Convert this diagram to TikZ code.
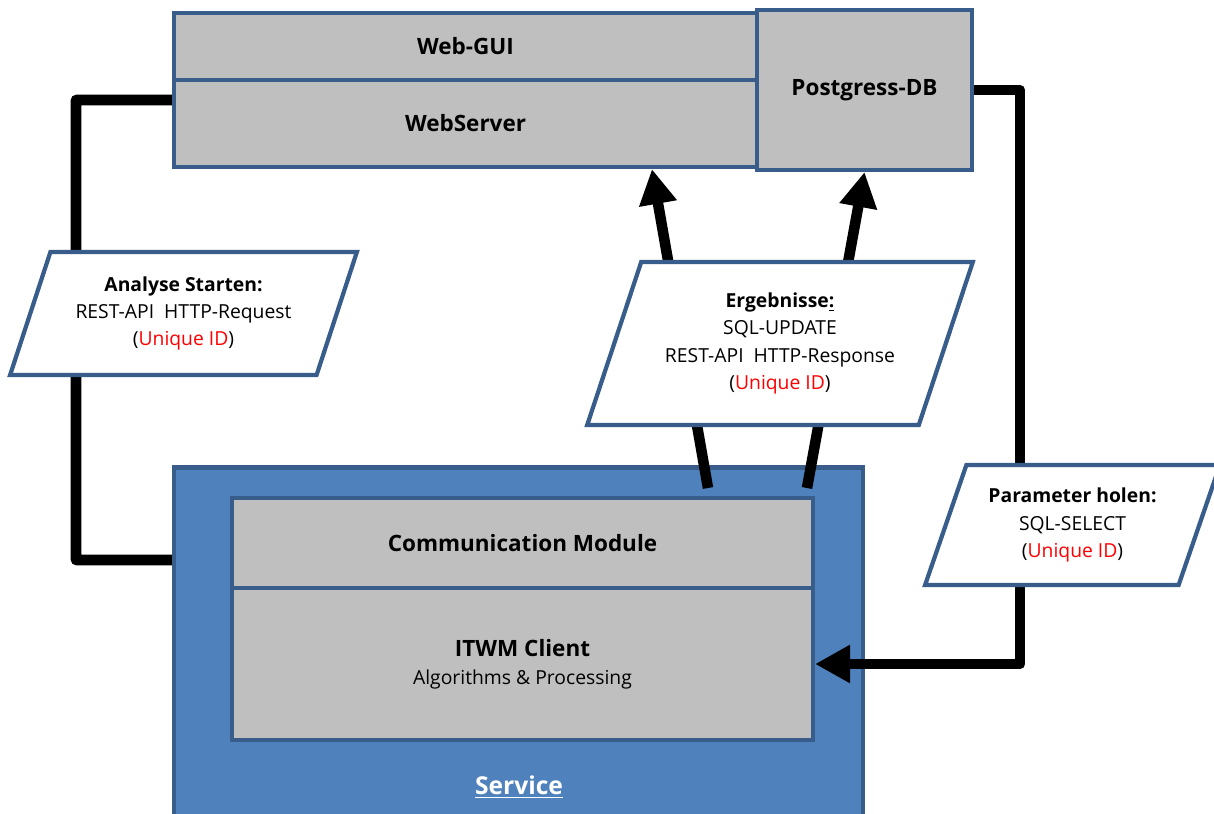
\documentclass[tikz,border=0pt]{standalone}
\usepackage{fontspec}
\setmainfont{Open Sans}
\usetikzlibrary{shapes.geometric,arrows.meta,positioning}
\definecolor{frameblue}{HTML}{385D8A}
\definecolor{boxgray}{HTML}{BFBFBF}
\definecolor{serviceblue}{HTML}{4F81BD}
\definecolor{idred}{HTML}{FF0000}
\newcommand{\uniqueid}{(\textcolor{idred}{Unique ID})}

\begin{document}
\begin{tikzpicture}[x=0.02cm,y=-0.02cm,
    title/.style={font=\fontsize{12.8}{16}\selectfont\bfseries},
    layer/.style={draw=frameblue,fill=boxgray,line width=2.4pt,rectangle,inner sep=0pt,title},
    io/.style={draw=frameblue,fill=white,line width=2.4pt,trapezium,trapezium left angle=66,
        trapezium right angle=114,trapezium stretches=true,align=center,inner sep=0pt,
        font=\fontsize{11}{15.4}\selectfont},
    link/.style={line width=6pt,line join=round},
    flow/.style={link,-{Triangle[length=0.7cm,width=0.72cm]}}]
    \useasboundingbox (0,0) rectangle (1214,814);

    % server side
    \node[layer,minimum width=11.66cm,minimum height=1.34cm] (webgui) at (465.5,46.5) {Web-GUI};
    \node[layer,minimum width=11.66cm,minimum height=1.74cm] (webserver) at (465.5,123.5) {WebServer};
    \node[layer,minimum width=4.3cm,minimum height=3.2cm] (db) at (864.5,90) {Postgress-DB};

    % service
    \node[draw=frameblue,fill=serviceblue,line width=2.4pt,minimum width=13.78cm,minimum height=7.1cm] (service) at (518.5,645) {};
    \node[layer,minimum width=11.62cm,minimum height=1.8cm] (comm) at (522.5,543) {Communication Module};
    \node[layer,align=center,minimum width=11.62cm,minimum height=3.04cm] (client) at (522.5,664)
        {ITWM Client\\{\normalfont\fontsize{11}{14}\selectfont Algorithms \& Processing}};
    \node[font=\fontsize{14}{16}\selectfont\bfseries,text=white] (servicelabel) at (519,787) {\underline{Service}};

    % connectors
    \coordinate (leftbend) at (76,100);
    \coordinate (rightbend) at (1020,90);
    \coordinate (outA) at (708,488);
    \coordinate (outB) at (807,488);
    \draw[link] ([yshift=0.47cm]webserver.west) -- (leftbend) |- ([yshift=1.7cm]service.west);
    \draw[flow] (db.east) -- (rightbend) |- (client.east);
    \draw[flow] (outA) -- ([xshift=3.73cm]webserver.south);
    \draw[flow] (outB) -- (db.south);

    % messages
    \node[io,minimum width=6.94cm,minimum height=2.46cm] (analyse) at (183.5,313.5)
        {\textbf{Analyse Starten:}\\REST-API\ \ HTTP-Request\\\uniqueid};
    \node[io,minimum width=7.72cm,minimum height=3.26cm] (results) at (780,343.5)
        {\textbf{Ergebnisse\underline{:}}\\SQL-UPDATE\\REST-API\ \ HTTP-Response\\\uniqueid};
    \node[io,minimum width=5.9cm,minimum height=2.4cm] (params) at (1072.5,525)
        {\textbf{Parameter\ holen:}\\SQL-SELECT\\\uniqueid};
\end{tikzpicture}
\end{document}
